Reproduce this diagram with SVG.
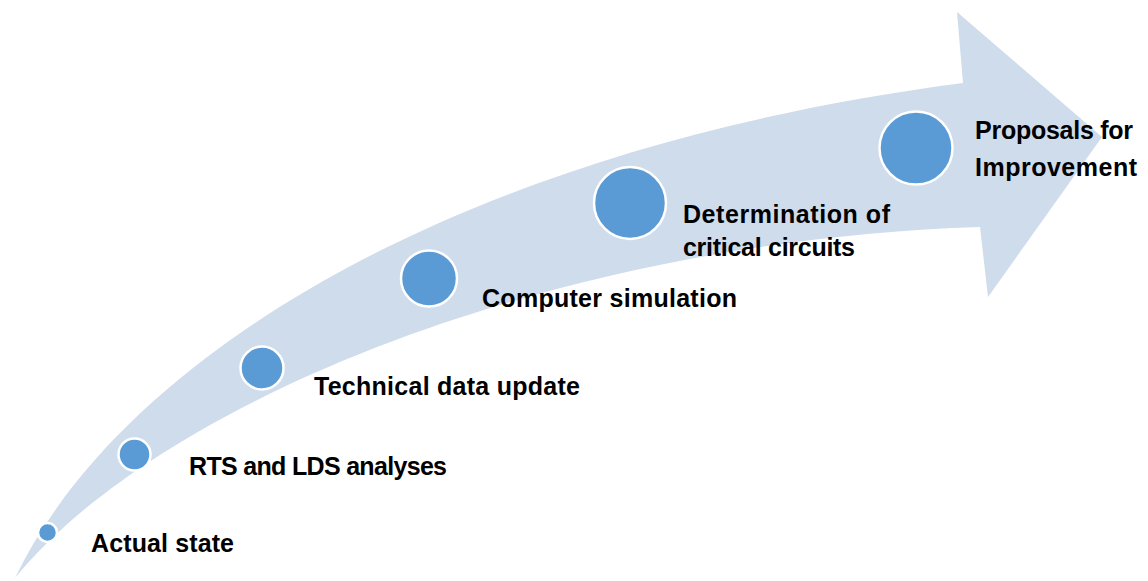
<svg xmlns="http://www.w3.org/2000/svg" width="1148" height="581" viewBox="0 0 1148 581">
<style>
.dot{fill:#5B9BD5;stroke:#FFFFFF;stroke-width:2.5}
.lbl{font-family:"Liberation Sans",Arial,sans-serif;font-weight:bold;font-size:25px;fill:#000000}
</style>
<rect width="1148" height="581" fill="#FFFFFF"/>
<g id="arrow">
<path d="M15,578 C120,360 450,150 963,83 L957,12 L1102,137 L988,297 L980,227 C560,240 160,400 15,578 Z" fill="#CFDCEC"/>
</g>
<g id="connectors"></g>
<g id="node-actual-state">
<circle class="dot" cx="47.5" cy="532.5" r="9.5"/>
<text class="lbl" x="91" y="552" textLength="143">Actual state</text>
</g>
<g id="node-rts-lds">
<circle class="dot" cx="134.5" cy="454.5" r="16"/>
<text class="lbl" x="189" y="475" textLength="258">RTS and LDS analyses</text>
</g>
<g id="node-technical-data">
<circle class="dot" cx="262" cy="368" r="21.5"/>
<text class="lbl" x="314" y="395" textLength="266">Technical data update</text>
</g>
<g id="node-computer-simulation">
<circle class="dot" cx="429" cy="278.5" r="28"/>
<text class="lbl" x="482" y="307" textLength="255">Computer simulation</text>
</g>
<g id="node-critical-circuits">
<circle class="dot" cx="630" cy="203" r="36"/>
<text class="lbl" x="683" y="223" textLength="207">Determination of</text>
<text class="lbl" x="683" y="255.5" textLength="172">critical circuits</text>
</g>
<g id="node-proposals">
<circle class="dot" cx="916" cy="148" r="36.5"/>
<text class="lbl" x="975" y="138.5" textLength="158">Proposals for</text>
<text class="lbl" x="975" y="175.5" textLength="162">Improvement</text>
</g>
</svg>
